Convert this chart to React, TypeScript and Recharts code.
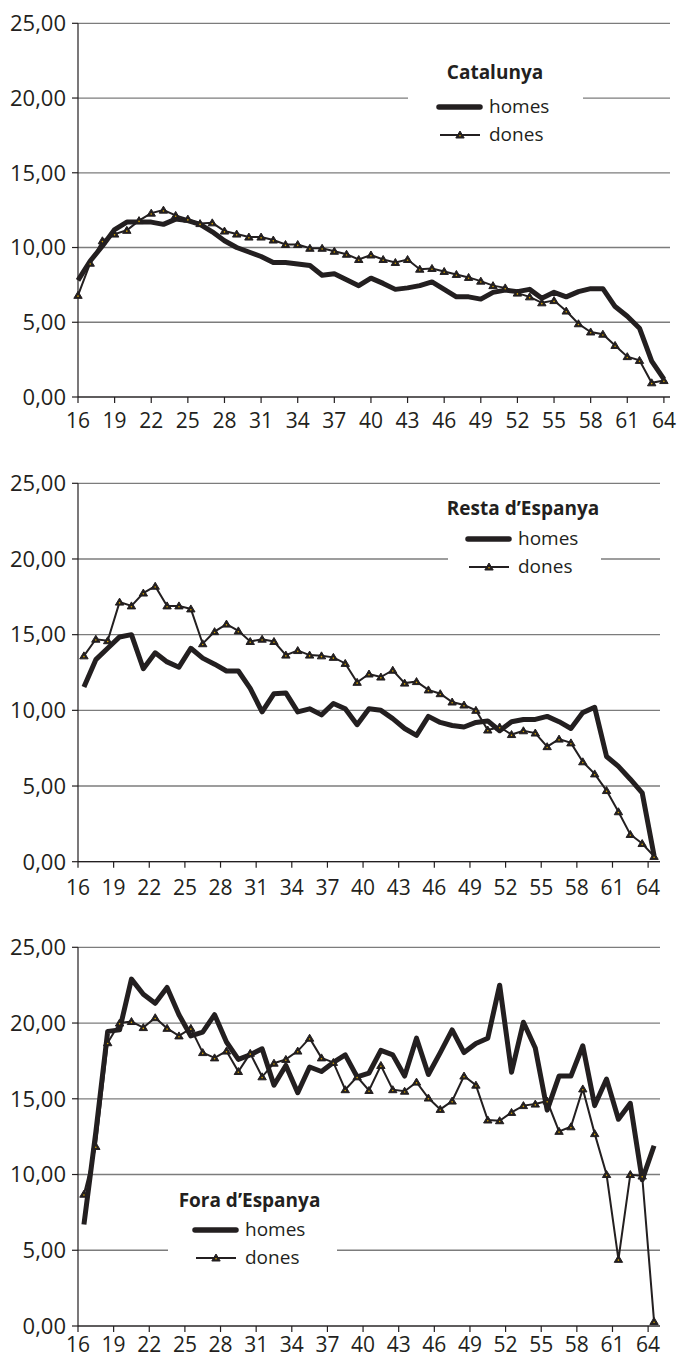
import React from "react";
import { LineChart, Line, XAxis, YAxis, CartesianGrid, Legend } from "recharts";

const INK = "#231f20";
const GRID = "#7c7c7c";
const FONT = "'Open Sans', 'Noto Sans', sans-serif";

const ages = [
  16, 17, 18, 19, 20, 21, 22, 23, 24, 25, 26, 27, 28, 29, 30, 31, 32, 33, 34, 35,
  36, 37, 38, 39, 40, 41, 42, 43, 44, 45, 46, 47, 48, 49, 50, 51, 52, 53, 54, 55,
  56, 57, 58, 59, 60, 61, 62, 63, 64,
];
const xLabels = [16, 19, 22, 25, 28, 31, 34, 37, 40, 43, 46, 49, 52, 55, 58, 61, 64];
const yTicks = [0, 5, 10, 15, 20, 25];

// Catalunya
const catHomes = [
  7.8, 9.1, 10.1, 11.2, 11.7, 11.7, 11.7, 11.55, 11.9, 11.8, 11.55, 11.05, 10.45, 10.0, 9.7, 9.4, 9.0,
  9.0, 8.9, 8.8, 8.15, 8.25, 7.85, 7.45, 7.95, 7.6, 7.2, 7.3, 7.45, 7.7, 7.2, 6.7, 6.7, 6.55, 7.0,
  7.15, 7.05, 7.2, 6.6, 7.0, 6.7, 7.05, 7.25, 7.25, 6.05, 5.4, 4.6, 2.4, 1.2,
];
const catDones = [
  6.8, 8.95, 10.45, 10.9, 11.15, 11.8, 12.3, 12.5, 12.15, 11.9, 11.6, 11.65, 11.1, 10.9, 10.7, 10.7,
  10.5, 10.2, 10.2, 9.95, 9.95, 9.75, 9.55, 9.2, 9.5, 9.2, 9.0, 9.2, 8.55, 8.6, 8.4, 8.2, 8.0, 7.75,
  7.45, 7.3, 6.95, 6.7, 6.3, 6.45, 5.75, 4.9, 4.35, 4.2, 3.45, 2.7, 2.45, 0.95, 1.1,
];

// Resta d'Espanya
const resHomes = [
  11.55, 13.35, 14.1, 14.85, 15.0, 12.75, 13.8, 13.2, 12.85, 14.1, 13.45, 13.05, 12.6, 12.6, 11.45,
  9.9, 11.1, 11.15, 9.9, 10.1, 9.7, 10.45, 10.1, 9.05, 10.1, 10.0, 9.45, 8.8, 8.35, 9.6, 9.2, 9.0, 8.9,
  9.2, 9.3, 8.65, 9.25, 9.4, 9.4, 9.6, 9.25, 8.8, 9.85, 10.2, 6.95, 6.3, 5.45, 4.55, 0.4,
];
const resDones = [
  13.6, 14.7, 14.6, 17.15, 16.9, 17.75, 18.2, 16.9, 16.9, 16.7, 14.4, 15.2, 15.7, 15.25, 14.55, 14.7,
  14.55, 13.65, 13.95, 13.65, 13.6, 13.5, 13.1, 11.85, 12.4, 12.2, 12.65, 11.8, 11.9, 11.35, 11.1,
  10.55, 10.35, 10.0, 8.7, 8.9, 8.4, 8.65, 8.5, 7.6, 8.1, 7.85, 6.6, 5.8, 4.7, 3.3, 1.8, 1.2, 0.35,
];

// Fora d'Espanya
const foraHomes = [
  6.7, 12.8, 19.45, 19.55, 22.9, 21.9, 21.3, 22.35, 20.55, 19.15, 19.4, 20.55, 18.75, 17.6, 17.9,
  18.3, 15.9, 17.2, 15.4, 17.1, 16.8, 17.4, 17.9, 16.45, 16.7, 18.2, 17.9, 16.5, 19.0, 16.6, 18.05,
  19.55, 18.05, 18.65, 19.0, 22.5, 16.75, 20.05, 18.35, 14.25, 16.5, 16.5, 18.5, 14.55, 16.3, 13.65,
  14.7, 9.65, 11.9,
];
const foraDones = [
  8.7, 11.85, 18.7, 20.0, 20.1, 19.7, 20.35, 19.65, 19.15, 19.65, 18.05, 17.7, 18.15, 16.8, 18.0,
  16.45, 17.35, 17.6, 18.15, 19.0, 17.7, 17.4, 15.6, 16.45, 15.55, 17.2, 15.6, 15.5, 16.1, 15.05,
  14.3, 14.85, 16.5, 15.9, 13.6, 13.55, 14.1, 14.55, 14.65, 14.85, 12.85, 13.15, 15.65, 12.7, 10.0,
  4.4, 10.0, 9.9, 0.3,
];

const fmt = (v: number) => v.toFixed(2).replace(".", ",");

function Triangle(props: any) {
  const { cx, cy } = props;
  if (cx == null || cy == null) return null;
  return (
    <g>
      <path
        d={`M${cx},${cy - 4} L${cx + 4.2},${cy + 3} L${cx - 4.2},${cy + 3} Z`}
        fill={INK}
        stroke={INK}
        strokeWidth={1}
        strokeLinejoin="round"
      />
      <circle cx={cx} cy={cy + 0.8} r={0.8} fill="#d9a400" />
    </g>
  );
}

type Box = {
  left: number; top: number; width: number; height: number;
  titleX: number; titleY: number; row1: number; row2: number; iconX: number; textX: number;
};

function LegendBox({ title, box }: { title: string; box: Box }) {
  const text = { position: "absolute" as const, fontFamily: FONT, color: INK, whiteSpace: "nowrap" as const };
  return (
    <div style={{ position: "relative", width: box.width, height: box.height, background: "#fff" }}>
      <div
        style={{
          ...text, left: box.titleX - 120, width: 240, textAlign: "center",
          top: box.titleY - 13, lineHeight: "26px", fontSize: 19, fontWeight: 700,
        }}
      >
        {title}
      </div>
      <svg style={{ position: "absolute", left: box.iconX - 3, top: box.row1 - 6 }} width={48} height={12}>
        <line x1={3} y1={6} x2={44} y2={6} stroke={INK} strokeWidth={5.5} strokeLinecap="round" />
      </svg>
      <div style={{ ...text, left: box.textX, top: box.row1 - 14, lineHeight: "26px", fontSize: 19 }}>homes</div>
      <svg style={{ position: "absolute", left: box.iconX - 3, top: box.row2 - 6 }} width={48} height={12}>
        <line x1={4} y1={6} x2={44} y2={6} stroke={INK} strokeWidth={2} />
        <Triangle cx={24} cy={6} />
      </svg>
      <div style={{ ...text, left: box.textX, top: box.row2 - 14, lineHeight: "26px", fontSize: 19 }}>dones</div>
    </div>
  );
}

function Panel({
  top, height, axisHeight, right, centered, homes, dones, title, box, labelGap,
}: {
  top: number; height: number; axisHeight: number; right: number; centered: boolean;
  homes: number[]; dones: number[]; title: string; box: Box; labelGap: number;
}) {
  const data = ages.map((a, i) => ({ age: a, homes: homes[i], dones: dones[i] }));
  const shift = centered ? 0.5 : 0;
  const domain = centered ? [15.5, 64.5] : [16, 64.5];
  const ticks = xLabels.map((t) => t - shift);
  return (
    <div style={{ position: "absolute", left: 0, top }}>
      <LineChart
        width={679}
        height={height}
        data={data}
        margin={{ top: 23.3, right, left: 0, bottom: 0 }}
      >
        <CartesianGrid vertical={false} stroke={GRID} strokeWidth={1.3} />
        <XAxis
          type="number"
          dataKey="age"
          domain={domain}
          ticks={ticks}
          interval={0}
          height={axisHeight}
          tickFormatter={(v: number) => String(v + shift)}
          tick={{ fontSize: 21, fill: INK, fontFamily: FONT }}
          tickSize={6}
          tickMargin={labelGap}
          axisLine={{ stroke: INK, strokeWidth: 1.2 }}
          tickLine={{ stroke: INK, strokeWidth: 1.2 }}
        />
        <YAxis
          width={78}
          domain={[0, 25]}
          ticks={yTicks}
          interval={0}
          tickFormatter={fmt}
          tick={{ fontSize: 22, fill: INK, fontFamily: FONT }}
          tickSize={6}
          tickMargin={6}
          axisLine={{ stroke: INK, strokeWidth: 1.2 }}
          tickLine={{ stroke: INK, strokeWidth: 1.2 }}
        />
        <Legend
          layout="horizontal"
          verticalAlign="middle"
          align="center"
          wrapperStyle={{ left: box.left, top: box.top, width: box.width, height: box.height }}
          content={() => <LegendBox title={title} box={box} />}
        />
        <Line
          dataKey="homes"
          name="homes"
          stroke={INK}
          strokeWidth={5}
          strokeLinejoin="round"
          dot={false}
          activeDot={false}
          isAnimationActive={false}
        />
        <Line
          dataKey="dones"
          name="dones"
          stroke={INK}
          strokeWidth={2}
          dot={(p: any) => <Triangle key={p.index} {...p} />}
          activeDot={false}
          isAnimationActive={false}
        />
      </LineChart>
    </div>
  );
}

export default function App() {
  return (
    <div style={{ position: "absolute", left: 0, top: 0, width: 679, height: 1360, background: "#fff", overflow: "hidden" }}>
      <Panel
        top={0}
        height={440}
        axisHeight={43}
        right={9}
        centered={false}
        homes={catHomes}
        dones={catDones}
        title="Catalunya"
        labelGap={10}
        box={{ left: 408, top: 55, width: 175, height: 95, titleX: 87, titleY: 17, row1: 52, row2: 80, iconX: 31, textX: 81 }}
      />
      <Panel
        top={460}
        height={445}
        axisHeight={43.3}
        right={19}
        centered={true}
        homes={resHomes}
        dones={resDones}
        title="Resta d’Espanya"
        labelGap={12}
        box={{ left: 448, top: 30, width: 153, height: 90, titleX: 75, titleY: 18, row1: 49, row2: 77, iconX: 20, textX: 70 }}
      />
      <Panel
        top={924}
        height={436}
        axisHeight={34}
        right={19}
        centered={true}
        homes={foraHomes}
        dones={foraDones}
        title="Fora d’Espanya"
        labelGap={5}
        box={{ left: 168, top: 258, width: 169, height: 90, titleX: 81.5, titleY: 18, row1: 48, row2: 76, iconX: 27, textX: 77 }}
      />
    </div>
  );
}
